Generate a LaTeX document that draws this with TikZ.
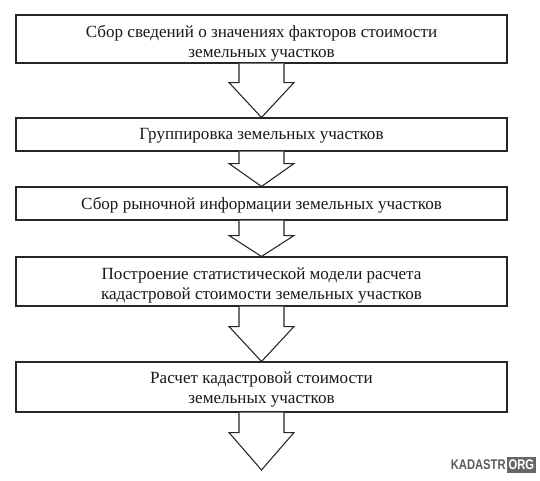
\documentclass[tikz,border=0pt]{standalone}
\usepackage{fontspec}
\setmainfont{Liberation Serif}
\newfontfamily\wmfont{Liberation Sans}
\usetikzlibrary{calc}
\tikzset{
  stepbox/.style={draw=black!85, line width=0.8pt, minimum width=491*0.75pt, inner sep=0pt, fill=white},
  steptext/.style={align=center, inner sep=0pt, font=\fontsize{12.8}{15}\selectfont, text=black!90},
  fat/.style={draw=black!85, line width=0.8pt, line join=miter, fill=white},
  wm/.style={font=\wmfont\bfseries\fontsize{10.5}{10.5}\selectfont, xscale=0.8, transform shape},
}
\newcommand\fatarrow[3]{%
  \draw[fat] ($(#1.south)+(-22.5,0)$) -- ++(0,#3) -- ++(-10,0) -- (#2)
    -- ($(#1.south)+(32.5,#3)$) -- ++(-10,0) -- ($(#1.south)+(22.5,0)$);}
\begin{document}
\begin{tikzpicture}[x=0.75pt,y=-0.75pt]
\useasboundingbox (0,0) rectangle (540,480);
\node[stepbox, minimum height=48*0.75pt] (b1) at (261.5,39) {};
\node[stepbox, minimum height=33*0.75pt] (b2) at (261.5,134.5) {};
\node[stepbox, minimum height=33*0.75pt] (b3) at (261.5,203.5) {};
\node[stepbox, minimum height=49*0.75pt] (b4) at (261.5,281.5) {};
\node[stepbox, minimum height=50*0.75pt] (b5) at (261.5,387) {};
\coordinate (end) at (261.5,470);
\node[steptext] (t1) at (261.5,43) {Сбор сведений о значениях факторов стоимости\\земельных участков};
\node[steptext] (t2) at (261.5,136) {Группировка земельных участков};
\node[steptext] (t3) at (261.5,205) {Сбор рыночной информации земельных участков};
\node[steptext] (t4) at (261.5,285) {Построение статистической модели расчета\\кадастровой стоимости земельных участков};
\node[steptext] (t5) at (261.5,389) {Расчет кадастровой стоимости\\земельных участков};
\fatarrow{b1}{b2.north}{19}
\fatarrow{b2}{b3.north}{12}
\fatarrow{b3}{b4.north}{15}
\fatarrow{b4}{b5.north}{20}
\fatarrow{b5}{end}{20}
\node[wm, fill=black!60, text=white, inner xsep=1.5pt, inner ysep=2.5pt, anchor=east] (org) at (536,465) {ORG};
\node[wm, text=black!65, inner sep=0pt, anchor=east] (kad) at ($(org.west)+(-1,0)$) {KADASTR};
\end{tikzpicture}
\end{document}
